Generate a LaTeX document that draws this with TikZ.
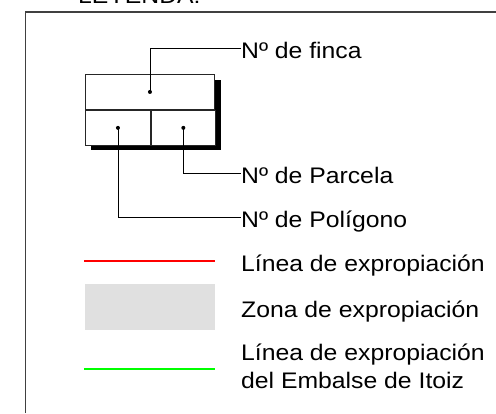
\documentclass[tikz,border=0pt]{standalone}
\usepackage{fontspec}
\setmainfont[FakeStretch=1.1]{Liberation Sans}
\usepackage{tikz}
\usetikzlibrary{calc}
\tikzset{
	cell/.style={draw=black!85, fill=white, line width=0.9pt, inner sep=0pt, minimum height=35pt},
	lbl/.style={anchor=west, inner sep=0pt, text height=20pt, text depth=0pt},
	leader/.style={draw=black, line width=0.9pt},
	dot/.style={fill=black},
	every node/.style={font=\fontsize{22.5}{28}\selectfont},
}

\begin{document}
\begin{tikzpicture}[x=1pt,y=-1pt]
\useasboundingbox (0,0) rectangle (496,413);
\draw (78,3)node[anchor=base west,inner sep=0pt]{LEYENDA:};
\draw[black!75,line width=1.3pt] (25.5,413) -- (25.5,12) -- (496,12);

% casilla con sombra
\fill (91,80) rectangle (221,150);
\node[cell, minimum width=129pt, anchor=north west] (finca) at (85,74) {};
\node[cell, minimum width=65pt, anchor=north west] (poligono) at (finca.south west) {};
\node[cell, minimum width=64pt, anchor=north west] (parcela) at (poligono.north east) {};
\fill[dot] (finca.center) circle (2pt);
\fill[dot] (poligono.center) circle (2pt);
\fill[dot] (parcela.center) circle (2pt);

\node[lbl] (lfinca) at (241,48) {Nº de finca};
\node[lbl] (lparcela) at (241,173) {Nº de Parcela};
\node[lbl] (lpoligono) at (241,217) {Nº de Polígono};
\draw[leader] (finca.center) |- (lfinca.west);
\draw[leader] (parcela.center) |- (lparcela.west);
\draw[leader] (poligono.center) |- (lpoligono.west);

% lineas y zona
\coordinate (r1) at (84,261);
\coordinate (r2) at (215,261);
\draw[red,line width=2pt] (r1) -- (r2);
\node[lbl] (lroja) at (241,261) {Línea de expropiación};
\fill[black!12] (85,284) rectangle (215,330);
\node[lbl] (lzona) at (241,307) {Zona de expropiación};
\coordinate (g1) at (84,369);
\coordinate (g2) at (215,369);
\draw[green,line width=2pt] (g1) -- (g2);
\node[anchor=west,inner sep=0pt,align=left] (lverde) at (241,366) {Línea de expropiación\\del Embalse de Itoiz};
\end{tikzpicture}
\end{document}
